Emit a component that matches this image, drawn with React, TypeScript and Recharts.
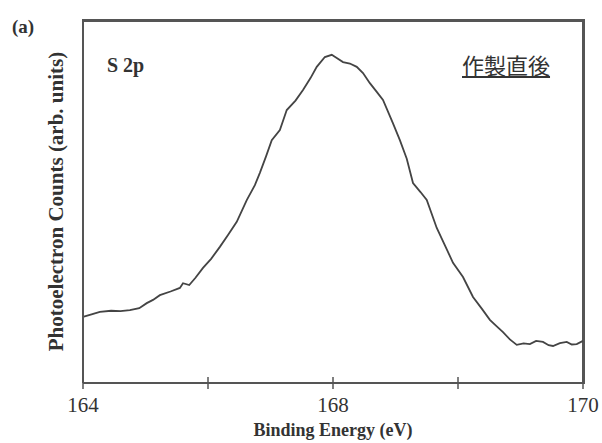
import { LineChart, Line, XAxis, YAxis } from 'recharts';

// S 2p spectrum
const energies = [
  164.0, 164.15, 164.27, 164.45, 164.6, 164.75, 164.9, 165.02, 165.12, 165.23,
  165.4, 165.55, 165.6, 165.7, 165.8, 165.92, 166.05, 166.19, 166.32, 166.46,
  166.62, 166.75, 166.83, 166.93, 167.02, 167.15, 167.26, 167.4, 167.52, 167.64,
  167.74, 167.87, 167.98, 168.06, 168.16, 168.27, 168.38, 168.48, 168.59, 168.7,
  168.8, 168.96, 169.07, 169.18, 169.28, 169.4, 169.5, 169.66, 169.8, 169.92,
  170.08, 170.24, 170.38, 170.51, 170.62, 170.72, 170.83, 170.94, 171.05, 171.15,
  171.25, 171.36, 171.45, 171.52, 171.63, 171.74, 171.82, 171.9, 172.0,
];
const counts = [
  18.2, 19.0, 19.6, 19.9, 19.8, 20.1, 20.6, 22.0, 22.9, 24.2,
  25.2, 26.2, 27.5, 27.0, 29.0, 31.7, 34.2, 37.5, 40.8, 44.4,
  50.4, 54.5, 57.9, 62.5, 66.9, 69.7, 75.2, 77.8, 80.7, 84.0,
  87.1, 89.8, 90.4, 89.5, 88.4, 88.0, 87.1, 85.4, 82.6, 80.2,
  78.0, 71.5, 66.9, 61.8, 55.1, 52.6, 50.4, 42.7, 37.6, 33.1,
  29.2, 23.7, 20.5, 17.4, 15.6, 14.0, 12.0, 10.5, 10.9, 10.7,
  11.6, 11.3, 10.4, 10.2, 11.0, 11.3, 10.6, 10.7, 11.6,
];
const xTicks = [164, 166, 168, 170, 172];
const xTickLabels = ['164', '', '168', '', '170'];

const data = energies.map((e, i) => ({ energy: e, counts: counts[i] }));

const AXIS = '#555';
const SERIF = '"Liberation Serif", "DejaVu Serif", serif';

const XTick = (props: any) => {
  const { x, y, payload } = props;
  const label = xTickLabels[xTicks.indexOf(payload.value)];
  return (
    <g>
      <line x1={x} x2={x} y1={y - 6} y2={y + 6} stroke={AXIS} strokeWidth={1.5} />
      <text x={x} y={y + 29} textAnchor="middle" fontSize={21} fill="#333" fontFamily={SERIF}>
        {label}
      </text>
    </g>
  );
};

export default function App() {
  return (
    <div style={{ position: 'absolute', left: 0, top: 0, width: 602, height: 443, background: '#fff', fontFamily: SERIF }}>
      {/* top and right frame edges */}
      <div
        style={{
          position: 'absolute',
          left: 82,
          top: 19,
          width: 503,
          height: 365,
          borderTop: '3px solid #555',
          borderRight: '3px solid #555',
          boxSizing: 'border-box',
        }}
      />
      <LineChart width={602} height={443} data={data} margin={{ top: 20, right: 19, bottom: 0, left: 0 }}>
        <XAxis
          dataKey="energy"
          type="number"
          domain={[164, 172]}
          ticks={xTicks}
          tick={<XTick />}
          tickLine={false}
          tickSize={0}
          tickMargin={0}
          height={60}
          axisLine={{ stroke: AXIS, strokeWidth: 2 }}
          label={{
            value: 'Binding Energy (eV)',
            position: 'center',
            dy: 17,
            style: { fontSize: 18, fontWeight: 'bold', fill: '#333', fontFamily: SERIF },
          }}
        />
        <YAxis
          type="number"
          domain={[0, 100]}
          tick={false}
          tickLine={false}
          width={83}
          axisLine={{ stroke: AXIS, strokeWidth: 2 }}
          label={{
            value: 'Photoelectron Counts (arb. units)',
            angle: -90,
            position: 'center',
            dx: 14,
            style: { fontSize: 21, fontWeight: 'bold', fill: '#333', fontFamily: SERIF },
          }}
        />
        <Line
          dataKey="counts"
          type="linear"
          stroke="#444"
          strokeWidth={1.8}
          dot={false}
          isAnimationActive={false}
        />
      </LineChart>
      <div style={{ position: 'absolute', left: 12, top: 16, fontSize: 19, fontWeight: 'bold', color: '#333' }}>(a)</div>
      <div style={{ position: 'absolute', left: 107, top: 54, fontSize: 20, fontWeight: 'bold', color: '#333' }}>S 2p</div>
      <div
        style={{
          position: 'absolute',
          left: 462,
          top: 48,
          fontSize: 22,
          color: '#333',
          textDecoration: 'underline',
          fontFamily: '"Noto Sans CJK JP", sans-serif',
        }}
      >
        作製直後
      </div>
    </div>
  );
}
